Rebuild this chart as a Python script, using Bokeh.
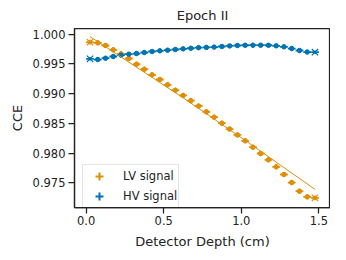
import numpy as np
from bokeh.plotting import figure
from bokeh.models import ColumnDataSource, Range1d, Legend, LegendItem, FixedTicker
from bokeh.embed import file_html
from bokeh.resources import INLINE

# ---- data ----
depth = [0.025, 0.075, 0.125, 0.175, 0.225, 0.275, 0.325, 0.375, 0.425, 0.475,
         0.525, 0.575, 0.625, 0.675, 0.725, 0.775, 0.825, 0.875, 0.925, 0.975,
         1.025, 1.075, 1.125, 1.175, 1.225, 1.275, 1.325, 1.375, 1.425, 1.475]
depth_err = [0.025] * 30

lv_cce = [0.99865, 0.99855, 0.99810, 0.99737, 0.99670, 0.99591, 0.99495, 0.99411,
          0.99317, 0.99238, 0.99149, 0.99058, 0.98971, 0.98882, 0.98792, 0.98695,
          0.98604, 0.98503, 0.98405, 0.98305, 0.98207, 0.98099, 0.97993, 0.97887,
          0.97769, 0.97640, 0.97505, 0.97359, 0.97264, 0.97248]
lv_err = [0.0004] * 30

hv_cce = [0.99586, 0.99574, 0.99596, 0.99625, 0.99647, 0.99664, 0.99675, 0.99692,
          0.99709, 0.99721, 0.99731, 0.99743, 0.99754, 0.99764, 0.99774, 0.99778,
          0.99783, 0.99793, 0.99803, 0.99810, 0.99814, 0.99815, 0.99815, 0.99814,
          0.99805, 0.99788, 0.99759, 0.99726, 0.99700, 0.99697]
hv_err = [0.0003] * 30

fit_depth = [0.025, 0.625, 1.025, 1.475]
fit_cce = [0.99960, 0.98930, 0.98215, 0.97390]

title_text = "Epoch II"
series_labels = ["LV signal", "HV signal"]
colors = ["#DE8F05", "#0173B2"]
x_ticks = [0.0, 0.5, 1.0, 1.5]
y_ticks = [0.975, 0.980, 0.985, 0.990, 0.995, 1.000]

FONT = "DejaVu Sans"

p = figure(frame_width=256, frame_height=179, output_backend="svg",
           toolbar_location=None, min_border_left=74, min_border_right=0,
           min_border_top=21, min_border_bottom=44,
           x_range=Range1d(-0.075, 1.575), y_range=Range1d(0.97085, 1.00096),
           title=title_text)
p.title.align = "center"
p.title.text_font = FONT
p.title.text_font_size = "13px"
p.title.text_font_style = "normal"
p.title.text_color = "#222222"
p.title.standoff = 11

p.xgrid.visible = False
p.ygrid.visible = False
p.outline_line_color = "#222222"
p.outline_line_width = 1.25
p.background_fill_color = "white"
p.border_fill_color = "white"

for ax in (p.xaxis[0], p.yaxis[0]):
    ax.axis_line_color = "#222222"
    ax.axis_line_width = 1.25
    ax.major_tick_line_color = "#222222"
    ax.major_tick_line_width = 1.25
    ax.major_tick_out = 6
    ax.major_tick_in = 0
    ax.minor_tick_line_color = None
    ax.major_label_text_font = FONT
    ax.major_label_text_font_size = "11.5px"
    ax.major_label_text_color = "#222222"
    ax.axis_label_text_font = FONT
    ax.axis_label_text_font_size = "13px"
    ax.axis_label_text_font_style = "normal"
    ax.axis_label_text_color = "#222222"

p.xaxis.ticker = FixedTicker(ticks=x_ticks)
p.yaxis.ticker = FixedTicker(ticks=y_ticks)
p.xaxis.major_label_overrides = {t: f"{t:.1f}" for t in x_ticks}
p.yaxis.major_label_overrides = {t: f"{t:.3f}" for t in y_ticks}
p.xaxis.axis_label = "Detector Depth (cm)"
p.yaxis.axis_label = "CCE"
p.xaxis.major_label_standoff = 2
p.yaxis.major_label_standoff = 3
p.xaxis.axis_label_standoff = 6
p.yaxis.axis_label_standoff = 5

legend_items = []
x = np.array(depth)
xe = np.array(depth_err)
for label, ys, es, col in [(series_labels[0], lv_cce, lv_err, colors[0]),
                           (series_labels[1], hv_cce, hv_err, colors[1])]:
    y = np.array(ys)
    e = np.array(es)
    src = ColumnDataSource(dict(x=x, y=y, xl=x - xe, xh=x + xe, yl=y - e, yh=y + e))
    p.segment(x0="xl", x1="xh", y0="y", y1="y", source=src, line_color=col, line_width=1.8)
    p.segment(x0="x", x1="x", y0="yl", y1="yh", source=src, line_color=col, line_width=1.8)
    inner = ColumnDataSource(dict(x=x[1:-1], y=y[1:-1]))
    p.scatter(x="x", y="y", source=inner, marker="circle", size=4.5,
              fill_color=col, line_color=col)
    ends = ColumnDataSource(dict(x=x[[0, -1]], y=y[[0, -1]]))
    p.scatter(x="x", y="y", source=ends, marker="x", size=9,
              line_color=col, line_width=1.2)
    leg = p.scatter(x="x", y="y", source=src, marker="cross", size=0,
                    line_color=col, line_width=2)
    legend_items.append(LegendItem(label=label, renderers=[leg]))

p.line(fit_depth, fit_cce, line_color=colors[0], line_width=1)

legend = Legend(items=legend_items, location=(8, -1))
legend.label_text_font = FONT
legend.label_text_font_size = "11.5px"
legend.label_text_color = "#222222"
legend.glyph_width = 30
legend.glyph_height = 20
legend.spacing = -3
legend.padding = 1
legend.margin = 0
legend.label_standoff = 9
legend.border_line_color = "#cccccc"
legend.border_line_width = 1
legend.background_fill_alpha = 0.8
p.add_layout(legend)

open("out.html", "w").write(file_html(p, INLINE))
